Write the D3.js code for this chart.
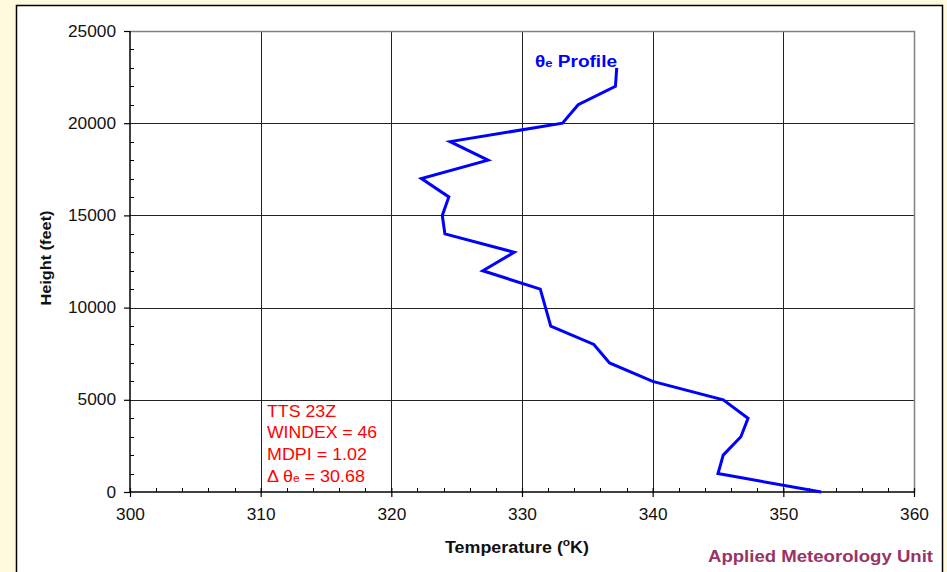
<!DOCTYPE html>
<html>
<head>
<meta charset="utf-8">
<script src="https://cdn.jsdelivr.net/npm/d3@7"></script>
<style>
  html, body { margin: 0; padding: 0; background: #FFF9DE; }
  svg { display: block; font-family: "Liberation Sans", Arial, sans-serif; }
</style>
</head>
<body>
<svg id="chart" width="947" height="572"></svg>
<script>
// ---- Data ----
const heights = [0, 1000, 2000, 3000, 4000, 5000, 6000, 7000, 8000, 9000, 10000, 11000,
                 12000, 13000, 14000, 15000, 16000, 17000, 18000, 19000, 20000, 21000, 22000, 23000];
const thetaE  = [352.9, 345.0, 345.4, 346.75, 347.3, 345.4, 340.0, 336.7, 335.5, 332.2, 331.8, 331.4,
                 327.0, 329.4, 324.1, 323.9, 324.4, 322.3, 327.4, 324.5, 333.1, 334.3, 337.15, 337.25];
const xTicks = [300, 310, 320, 330, 340, 350, 360];
const yTicks = [0, 5000, 10000, 15000, 20000, 25000];
const seriesName = "Profile";
const annotationLines = ["TTS 23Z", "WINDEX = 46", "MDPI = 1.02"];
const deltaValue = "30.68";
const xTitle = "Temperature (";
const yTitle = "Height (feet)";
const credit = "Applied Meteorology Unit";

// ---- Layout ----
const svg = d3.select("#chart");
const W = 947, H = 572;
const plot = { left: 130, right: 914, top: 31, bottom: 492 };

svg.append("rect").attr("x", 0).attr("y", 0).attr("width", W).attr("height", H).attr("fill", "#FFF9DE");
svg.append("rect").attr("x", 16.5).attr("y", 5.5).attr("width", 926).attr("height", 580)
   .attr("fill", "#ffffff").attr("stroke", "#000").attr("stroke-width", 1.5);

const x = d3.scaleLinear().domain([300, 360]).range([plot.left, plot.right]);
const y = d3.scaleLinear().domain([0, 25000]).range([plot.bottom, plot.top]);

// Gridlines
const g = svg.append("g");
g.selectAll(".vgrid").data(xTicks.slice(1, -1)).enter().append("line")
  .attr("x1", d => Math.round(x(d)) + 0.5).attr("x2", d => Math.round(x(d)) + 0.5)
  .attr("y1", plot.top).attr("y2", plot.bottom)
  .attr("stroke", "#222").attr("stroke-width", 1);
g.selectAll(".hgrid").data(yTicks.slice(1, -1)).enter().append("line")
  .attr("y1", d => Math.round(y(d)) + 0.5).attr("y2", d => Math.round(y(d)) + 0.5)
  .attr("x1", plot.left).attr("x2", plot.right)
  .attr("stroke", "#222").attr("stroke-width", 1);

// Plot frame top/right (gray)
svg.append("path")
  .attr("d", `M${plot.left},${plot.top + 0.5}H${plot.right + 0.5}V${plot.bottom}`)
  .attr("fill", "none").attr("stroke", "#808080").attr("stroke-width", 1.5);

// Minor ticks (inside)
const xMinor = d3.range(300, 361, 2).filter(v => v % 10 !== 0);
const yMinor = d3.range(0, 25001, 1000).filter(v => v % 5000 !== 0);
svg.append("g").selectAll("line").data(xMinor).enter().append("line")
  .attr("x1", d => Math.round(x(d)) + 0.5).attr("x2", d => Math.round(x(d)) + 0.5)
  .attr("y1", plot.bottom - 4).attr("y2", plot.bottom)
  .attr("stroke", "#000").attr("stroke-width", 1);
svg.append("g").selectAll("line").data(yMinor).enter().append("line")
  .attr("y1", d => Math.round(y(d)) + 0.5).attr("y2", d => Math.round(y(d)) + 0.5)
  .attr("x1", plot.left).attr("x2", plot.left + 4)
  .attr("stroke", "#000").attr("stroke-width", 1);

// Axes
const xAxis = d3.axisBottom(x).tickValues(xTicks).tickSize(5).tickPadding(12).tickFormat(d3.format("d"));
const yAxis = d3.axisLeft(y).tickValues(yTicks).tickSize(6).tickPadding(8).tickFormat(d3.format("d"));

const gx = svg.append("g").attr("transform", `translate(0,${plot.bottom})`).call(xAxis);
const gy = svg.append("g").attr("transform", `translate(${plot.left},0)`).call(yAxis);
[gx, gy].forEach(a => {
  a.select(".domain").attr("stroke", "#000").attr("stroke-width", 1.5);
  a.selectAll(".tick line").attr("stroke", "#000").attr("stroke-width", 1.2);
  a.selectAll(".tick text").attr("fill", "#111")
    .style("font-family", "'Liberation Sans', Arial, sans-serif").style("font-size", "16px")
    .attr("textLength", d => String(d).length * 9.6).attr("lengthAdjust", "spacingAndGlyphs");
});
gx.select(".domain").attr("d", `M${plot.left},0H${plot.right}`);
gy.select(".domain").attr("d", `M0,${plot.bottom}V${plot.top}`);
gx.selectAll(".tick line").attr("y1", -4).attr("y2", 5);

// Line
const line = d3.line().x((d, i) => x(thetaE[i])).y(d => y(d));
svg.append("path").datum(heights)
  .attr("d", line)
  .attr("fill", "none").attr("stroke", "#0000FF").attr("stroke-width", 3)
  .attr("stroke-linejoin", "miter");

// Series label
const lab = svg.append("text").attr("x", 535).attr("y", 67)
  .attr("fill", "#0000FF").attr("font-weight", "bold").attr("font-size", 16);
lab.append("tspan").text("θ");
lab.append("tspan").attr("font-size", 11).text("e");
lab.append("tspan").text(" " + seriesName);
lab.attr("textLength", 82).attr("lengthAdjust", "spacingAndGlyphs");

// Annotation
const annWidths = [69, 110, 100];
const ann = svg.append("g").attr("fill", "#FF0000").attr("font-size", 16.5);
annotationLines.forEach((t, i) => {
  ann.append("text").attr("x", 267).attr("y", 417 + i * 21.3)
    .attr("textLength", annWidths[i]).attr("lengthAdjust", "spacingAndGlyphs").text(t);
});
const dl = ann.append("text").attr("x", 267).attr("y", 482)
  .attr("textLength", 98).attr("lengthAdjust", "spacingAndGlyphs");
dl.append("tspan").text("Δ θ");
dl.append("tspan").attr("font-size", 11).text("e");
dl.append("tspan").text(" = " + deltaValue);

// Axis titles
const xt = svg.append("text").attr("x", 445).attr("y", 553)
  .attr("font-weight", "bold").attr("font-size", 16.5).attr("fill", "#111")
  .attr("textLength", 144).attr("lengthAdjust", "spacingAndGlyphs");
xt.append("tspan").text(xTitle);
xt.append("tspan").attr("font-size", 11).attr("dy", -7).text("o");
xt.append("tspan").attr("dy", 7).text("K)");

svg.append("text").attr("transform", "translate(51,258) rotate(-90)").attr("text-anchor", "middle")
  .attr("font-weight", "bold").attr("font-size", 15).attr("fill", "#111")
  .attr("textLength", 95).attr("lengthAdjust", "spacingAndGlyphs").text(yTitle);

svg.append("text").attr("x", 933).attr("y", 562).attr("text-anchor", "end")
  .attr("font-weight", "bold").attr("font-size", 16).attr("fill", "#993366")
  .attr("textLength", 225).attr("lengthAdjust", "spacingAndGlyphs").text(credit);
</script>
</body>
</html>
